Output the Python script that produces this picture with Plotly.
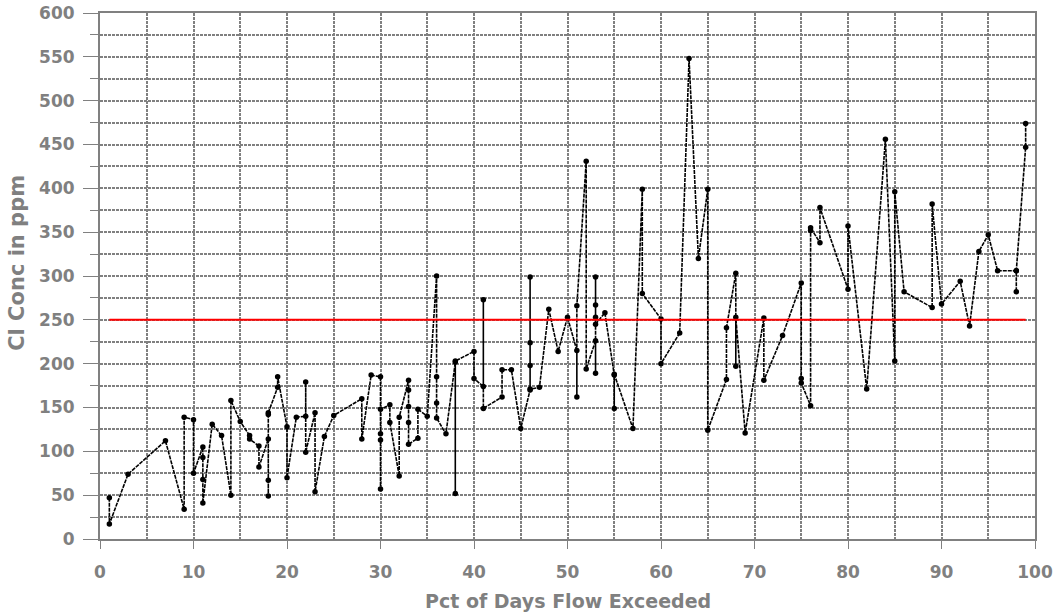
import plotly.graph_objects as go

# Percent of days flow exceeded (x) and chloride concentration in ppm (y)
pct_exceeded = [
    1, 1, 3, 7, 9, 9, 10, 10,
    11, 11, 11, 11, 12, 13, 14, 14, 15, 16, 16, 17, 17,
    18, 18, 18, 18, 18, 19, 19, 20, 20, 21, 22, 22, 22, 23, 23, 24, 25, 28, 28, 29,
    30, 30, 30, 30, 30, 31, 31, 32, 32, 33, 33, 33, 33, 33, 34, 34, 35,
    36, 36, 36, 36, 37, 38, 38, 38, 40, 40, 41, 41, 41, 43, 43, 44, 45,
    46, 46, 46, 46, 46, 47, 48, 49, 50, 51, 51, 51, 52, 52,
    53, 53, 53, 53, 53, 53, 54, 55, 55, 55, 57, 58, 58, 60, 60, 62, 63, 64, 65, 65,
    67, 67, 68, 68, 68, 69, 71, 71, 73, 75, 75, 75, 76, 76, 76, 77, 77, 80, 80, 82, 84, 85, 85,
    86, 89, 89, 90, 92, 93, 94, 95, 96, 98, 98, 98, 99, 99,
]
cl_ppm = [
    47, 17, 74, 112, 34, 139, 136, 75,
    105, 93, 68, 41, 131, 118, 50, 158, 134, 118, 114, 106, 82,
    114, 67, 49, 142, 144, 173, 185, 128, 70, 139, 140, 179, 99, 144, 54, 117, 141, 160, 114, 187,
    185, 120, 113, 57, 148, 153, 133, 72, 139, 181, 170, 151, 133, 108, 115, 148, 140,
    300, 185, 155, 138, 120, 202, 52, 203, 214, 183, 174, 273, 149, 162, 193, 193, 126,
    170, 299, 224, 198, 171, 173, 262, 214, 253, 215, 162, 266, 431, 194,
    226, 189, 299, 267, 253, 245, 258, 187, 149, 188, 126, 399, 280, 251, 200, 235, 548, 320, 399, 124,
    182, 241, 303, 197, 253, 121, 252, 181, 232, 292, 183, 178, 152, 352, 355, 338, 378, 285, 357, 171, 456, 203, 396,
    282, 264, 382, 268, 294, 243, 328, 347, 306, 306, 282, 306, 447, 474,
]

# 250 ppm standard line
standard_x = [1, 99]
standard_y = [250, 250]

x_title = "Pct of Days Flow Exceeded"
y_title = "Cl Conc in ppm"

GRAY = "#808080"
GRID = "#808080"
FONT = "'DejaVu Sans', Arial, sans-serif"
GRID_DASH = "3px,1px"

fig = go.Figure()
fig.add_trace(go.Scatter(
    x=pct_exceeded, y=cl_ppm, mode="lines+markers",
    line=dict(color="black", width=1.6, dash="4px,1px"),
    marker=dict(color="black", size=5.5, symbol="circle"),
    showlegend=False, hoverinfo="x+y",
))
fig.add_trace(go.Scatter(
    x=standard_x, y=standard_y, mode="lines",
    line=dict(color="#ff0000", width=2),
    showlegend=False,
))

fig.update_layout(
    width=1054, height=614,
    margin=dict(l=100, r=19, t=13, b=75),
    paper_bgcolor="white", plot_bgcolor="white",
    font=dict(family=FONT, color=GRAY),
    xaxis=dict(
        range=[0, 100], tick0=0, dtick=10, automargin=False,
        showgrid=True, gridcolor=GRID, gridwidth=1.5, griddash=GRID_DASH,
        minor=dict(dtick=5, showgrid=True, gridcolor=GRID, gridwidth=1.5, griddash=GRID_DASH),
        showline=True, linecolor=GRAY, linewidth=2, mirror=True,
        ticks="outside", ticklen=8, tickwidth=1, tickcolor=GRAY,
        ticklabelstandoff=9,
        tickfont=dict(family=FONT, size=17, color=GRAY, weight="bold"),
        zeroline=False,
    ),
    yaxis=dict(
        range=[0, 600], tick0=0, dtick=50, automargin=False,
        showgrid=True, gridcolor=GRID, gridwidth=1.5, griddash=GRID_DASH,
        minor=dict(dtick=25, showgrid=True, gridcolor=GRID, gridwidth=1.5, griddash=GRID_DASH,
                   ticks="outside", ticklen=8, tickcolor=GRAY, tickwidth=1),
        showline=True, linecolor=GRAY, linewidth=2, mirror=True,
        ticks="outside", ticklen=15, tickwidth=1, tickcolor=GRAY,
        ticklabelstandoff=5,
        tickfont=dict(family=FONT, size=17, color=GRAY, weight="bold"),
        zeroline=False,
    ),
    annotations=[
        dict(text=x_title, xref="paper", yref="paper", x=0.5, y=-0.118,
             xanchor="center", yanchor="middle", showarrow=False,
             font=dict(family=FONT, size=19, color=GRAY, weight="bold")),
        dict(text=y_title, xref="paper", yref="paper", x=-0.0888, y=0.525,
             xanchor="center", yanchor="middle", showarrow=False, textangle=-90,
             font=dict(family=FONT, size=21, color=GRAY, weight="bold")),
    ],
)

fig.write_html("out.html", config={"displayModeBar": False},
               post_script="document.body.style.margin='0';")
